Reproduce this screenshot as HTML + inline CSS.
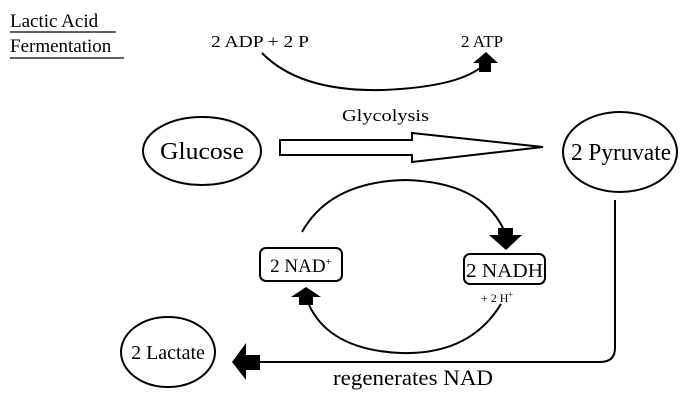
<!DOCTYPE html>
<html><head><style>
body{margin:0;background:#fff;}
svg{display:block;font-family:"Liberation Serif",serif;}
</style></head><body>
<svg width="698" height="400" viewBox="0 0 698 400" xmlns="http://www.w3.org/2000/svg">
<rect width="698" height="400" fill="#fff"/>
<g fill="#000" font-size="19">
<text x="10" y="27">Lactic Acid</text>
<text x="10" y="52">Fermentation</text>
</g>
<line x1="10" y1="32" x2="116" y2="32" stroke="#000" stroke-width="1.2"/>
<line x1="10" y1="58" x2="124" y2="58" stroke="#000" stroke-width="1.2"/>
<g font-size="17" fill="#000">
<text x="211" y="47" textLength="98" lengthAdjust="spacingAndGlyphs">2 ADP + 2 P</text>
<text x="461" y="47">2 ATP</text>
<text x="342" y="121" textLength="87" lengthAdjust="spacingAndGlyphs">Glycolysis</text>
</g>
<path d="M262 53 Q300 92 383 90 Q455 87 480 68" fill="none" stroke="#000" stroke-width="2"/>
<path d="M479 72 L479 63 L473 63 L486 52 L498 63 L491 63 L491 72 Z" fill="#000"/>
<ellipse cx="202" cy="151" rx="59" ry="34" fill="none" stroke="#000" stroke-width="2"/>
<text x="160" y="159" font-size="24" textLength="84" lengthAdjust="spacingAndGlyphs">Glucose</text>
<ellipse cx="620" cy="152" rx="57" ry="40" fill="none" stroke="#000" stroke-width="2"/>
<text x="571" y="160" font-size="24" textLength="100" lengthAdjust="spacingAndGlyphs">2 Pyruvate</text>
<path d="M280 140 L412 140 L412 133 L543 147 L412 162 L412 155 L280 155 Z" fill="#fff" stroke="#000" stroke-width="2"/>
<path d="M302 232 Q330 182 405 180 Q480 182 503 228" fill="none" stroke="#000" stroke-width="2"/>
<path d="M498 228 L498 235 L489 235 L506 250 L522 235 L513 235 L513 228 Z" fill="#000"/>
<rect x="260" y="248" width="82" height="33" rx="6" fill="#fff" stroke="#000" stroke-width="2"/>
<text x="301" y="272" font-size="19" text-anchor="middle">2 NAD<tspan font-size="11" dy="-7">+</tspan></text>
<rect x="464" y="254" width="81" height="30" rx="6" fill="#fff" stroke="#000" stroke-width="2"/>
<text x="466" y="277" font-size="20" textLength="77" lengthAdjust="spacingAndGlyphs">2 NADH</text>
<text x="497" y="302" font-size="12" text-anchor="middle">+ 2 H<tspan font-size="8" dy="-5">+</tspan></text>
<path d="M501 304 Q470 355 401 353 Q330 350 309 305" fill="none" stroke="#000" stroke-width="2"/>
<path d="M299 305 L299 297 L291 297 L306 287 L321 297 L313 297 L313 305 Z" fill="#000"/>
<ellipse cx="168" cy="352" rx="47" ry="35" fill="none" stroke="#000" stroke-width="2"/>
<text x="168" y="359" font-size="20" text-anchor="middle">2 Lactate</text>
<path d="M615 200 L615 348 Q615 362 600 362 L260 362" fill="none" stroke="#000" stroke-width="2"/>
<path d="M260 355 L246 355 L246 343 L232 362 L246 380 L246 370 L260 370 Z" fill="#000"/>
<text x="333" y="385" font-size="22" textLength="160" lengthAdjust="spacingAndGlyphs">regenerates NAD</text>
</svg>
</body></html>
